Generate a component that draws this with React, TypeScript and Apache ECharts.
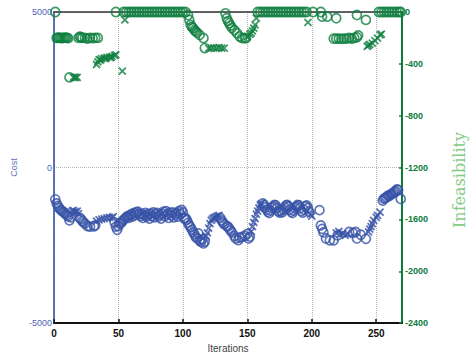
import React, { useEffect, useRef } from "react";
import * as echarts from "echarts";

// ---------- data (iteration, value) ----------
const costCircles: [number, number][] = [
  [1, -1020], [2, -1150], [3, -1230], [4, -1300], [5, -1350], [6, -1390], [7, -1420], [8, -1450], [9, -1490], [10, -1530], [11, -1570], [12, -1700], [13, -1600],
  [20, -1620], [21, -1660], [22, -1720], [23, -1760], [24, -1800], [26, -1880], [28, -1900], [31, -1890], [32, -1860],
  [47, -1760], [48, -1900], [49, -2000], [50, -1880], [51, -1800],
  [52, -1780], [53, -1720], [54, -1680], [55, -1640], [56, -1600], [57, -1560], [58, -1620], [59, -1540], [60, -1500], [61, -1580], [62, -1460], [63, -1520], [64, -1440], [65, -1420], [66, -1500], [67, -1560], [68, -1480], [69, -1620], [70, -1540], [71, -1460], [72, -1580], [73, -1500], [74, -1640], [75, -1480], [76, -1560], [77, -1440], [78, -1600], [79, -1500], [80, -1460], [81, -1580], [82, -1520], [83, -1640], [84, -1480], [85, -1420], [86, -1560], [87, -1400], [88, -1500], [89, -1620], [90, -1460], [91, -1540], [92, -1440], [93, -1600], [94, -1520], [95, -1460], [96, -1580], [97, -1400], [98, -1500], [99, -1360], [100, -1440],
  [101, -1640], [102, -1620], [103, -1680], [104, -1780], [105, -1860], [106, -1920], [107, -2000], [108, -2080], [109, -2150], [110, -2230], [111, -2280], [112, -2120], [113, -2340], [114, -2390], [115, -2300], [116, -2440], [117, -2380],
  [129, -1620], [130, -1700], [131, -1760], [132, -1820], [134, -1880], [135, -1900], [136, -1960], [137, -2020], [138, -2080], [140, -2200], [141, -2280], [143, -2330], [144, -2250], [146, -2230], [148, -2200], [150, -2130], [151, -2280], [152, -2220],
  [162, -1150], [163, -1200], [164, -1280], [165, -1350], [166, -1420], [167, -1460], [168, -1380], [169, -1300], [170, -1250], [171, -1200], [172, -1220], [173, -1300], [174, -1400], [175, -1450], [176, -1380], [177, -1440], [178, -1350], [179, -1280], [180, -1220], [181, -1200], [182, -1260], [183, -1350], [184, -1420], [185, -1460], [186, -1380], [187, -1300], [188, -1250], [189, -1200], [190, -1220], [191, -1300], [192, -1400], [193, -1450], [194, -1350], [195, -1250], [196, -1220], [197, -1300], [198, -1420],
  [206, -1370], [207, -1860], [208, -1970], [209, -2080], [211, -2280], [214, -2340], [217, -2340], [220, -2180], [229, -2070], [232, -2100], [234, -2070], [235, -2280], [238, -2160], [242, -2290],
  [255, -1060], [256, -1000], [257, -980], [258, -950], [259, -900], [260, -920], [261, -870], [262, -850], [263, -820], [264, -780], [265, -760], [266, -700], [267, -720], [269, -1010],
];

const costCrosses: [number, number][] = [
  [14, -1400], [15, -1380], [16, -1420], [17, -1450], [18, -1400], [19, -1480],
  [33, -1720], [35, -1680], [37, -1660], [39, -1640], [41, -1620], [43, -1600], [45, -1610], [46, -1580],
  [118, -2200], [119, -2100], [120, -1950], [121, -1800], [122, -1700], [123, -1650], [124, -1620], [125, -1600], [126, -1580], [127, -1560], [128, -1540],
  [153, -2050], [154, -1900], [155, -1760], [156, -1640], [157, -1500], [158, -1400], [159, -1300], [160, -1200], [161, -1160],
  [199, -1500], [200, -1560],
  [219, -2100], [221, -2050], [222, -2150], [224, -2120], [226, -2180], [228, -2130],
  [244, -2070], [245, -1980], [246, -1900], [247, -1800], [248, -1700], [250, -1600], [251, -1540], [253, -1430],
];

const infCircles: [number, number][] = [
  [1, 0], [2, -200], [3, -200], [4, -198], [5, -200], [6, -202], [7, -200], [8, -200], [9, -198], [10, -200], [11, -202], [12, -505],
  [19, -200], [20, -190], [21, -195], [22, -200], [24, -200], [26, -205], [28, -200], [30, -202], [32, -200], [34, -200],
  [48, 0], [54, 0], [56, 0], [58, 0], [60, 0], [62, 0], [64, 0], [66, 0], [68, 0], [70, 0], [72, 0], [74, 0], [76, 0], [78, 0], [80, 0], [82, 0], [84, 0], [86, 0], [88, 0], [90, 0], [92, 0], [94, 0], [96, 0], [98, 0], [100, 0], [102, 0],
  [104, -23], [105, -61], [106, -99], [107, -115], [108, -125], [109, -140], [110, -150], [111, -160], [113, -176], [116, -201], [117, -278],
  [133, -10], [134, -48], [135, -70], [136, -87], [137, -105], [138, -122], [140, -140], [142, -163], [144, -189], [146, -201], [148, -201], [149, -201],
  [158, 0], [160, 0], [162, 0], [164, 0], [166, 0], [168, 0], [170, 0], [172, 0], [174, 0], [176, 0], [178, 0], [180, 0], [182, 0], [184, 0], [186, 0], [188, 0], [190, 0], [192, 0], [194, 0], [196, 0],
  [201, 0], [207, 0], [208, -36], [212, -36], [219, -48], [235, -23], [242, -61],
  [217, -205], [219, -205], [221, -205], [223, -208], [225, -205], [227, -205], [229, -200], [231, -205], [233, -200], [235, -195], [236, -180],
  [252, 0], [254, 0], [256, 0], [258, 0], [260, 0], [262, 0], [264, 0], [266, 0], [268, 0], [269, 0],
];

const infCrosses: [number, number][] = [
  [15, -505], [16, -505], [17, -505], [18, -505],
  [33, -405], [34, -385], [35, -367], [36, -372], [37, -360], [39, -355], [40, -360], [41, -350], [43, -348], [44, -352], [45, -342], [47, -335], [48, -330],
  [53, -456], [55, -61],
  [120, -280], [122, -278], [124, -276], [126, -278], [128, -275], [130, -278], [132, -278],
  [150, -189], [152, -170], [153, -163], [154, -145], [155, -125], [156, -100], [157, -48],
  [197, -80],
  [243, -265], [244, -258], [245, -250], [247, -240], [249, -220], [251, -201], [253, -176], [254, -170],
];

const xRange = [0, 270];
const costRange = [-5000, 5000];
const infRange = [-2400, 0];

const BLUE = "#3752a6";
const BLUE_AXIS = "#2b47a3";
const GREEN = "#0f8040";
const GREEN_AXIS = "#0b7d3b";
const CROSS = "path://M0,0L10,10M10,0L0,10";

const plain = (v: number) => String(v);

export default function App() {
  const ref = useRef<HTMLDivElement>(null);
  useEffect(() => {
    if (!ref.current) return;
    const chart = echarts.init(ref.current, null, { renderer: "svg" });
    const hollow = (c: string, w: number) => ({ color: "rgba(0,0,0,0)", borderColor: c, borderWidth: w });
    chart.setOption({
      animation: false,
      backgroundColor: "#fff",
      grid: { left: 54, right: 69, top: 12, bottom: 32 },
      xAxis: [
        {
          type: "value",
          min: xRange[0],
          max: xRange[1],
          interval: 50,
          position: "bottom",
          axisLine: { onZero: false, lineStyle: { color: "#111", width: 2 } },
          axisTick: { inside: true, length: 4, lineStyle: { color: "#111", width: 1.5 } },
          axisLabel: { color: "#111", fontWeight: "bold", fontSize: 10, fontFamily: "Liberation Sans", margin: 5, showMaxLabel: false, formatter: plain },
          splitLine: { show: true, lineStyle: { type: "dotted", color: "#b5b5b5", width: 1 } },
          name: "Iterations",
          nameLocation: "middle",
          nameGap: 18,
          nameTextStyle: { color: "#444", fontSize: 10, fontFamily: "Liberation Sans" },
        },
        {
          type: "value",
          min: xRange[0],
          max: xRange[1],
          position: "top",
          axisLine: { show: true, onZero: false, lineStyle: { color: "#333", width: 1.5 } },
          axisTick: { show: false },
          axisLabel: { show: false },
          splitLine: { show: false },
        },
      ],
      yAxis: [
        {
          type: "value",
          min: costRange[0],
          max: costRange[1],
          interval: 5000,
          position: "left",
          axisLine: { show: true, onZero: false, lineStyle: { color: BLUE_AXIS, width: 1.5 } },
          axisTick: { show: false },
          axisLabel: { color: "#4d63b8", fontSize: 9, fontFamily: "Liberation Sans", margin: 2, formatter: plain },
          splitLine: { show: true, lineStyle: { type: "dotted", color: "#b5b5b5", width: 1 } },
          name: "Cost",
          nameLocation: "middle",
          nameGap: 33,
          nameTextStyle: { color: "#5a6fc4", fontSize: 9, fontFamily: "Liberation Sans" },
        },
        {
          type: "value",
          min: infRange[0],
          max: infRange[1],
          interval: 400,
          position: "right",
          axisLine: { show: true, onZero: false, lineStyle: { color: GREEN_AXIS, width: 2 } },
          axisTick: { show: true, inside: true, length: 3, lineStyle: { color: GREEN_AXIS, width: 1.5 } },
          axisLabel: { color: GREEN_AXIS, fontWeight: "bold", fontSize: 9, fontFamily: "Liberation Sans", margin: 3, formatter: plain },
          splitLine: { show: false },
        },
      ],
      graphic: [
        {
          type: "text",
          x: 459,
          y: 180,
          rotation: Math.PI / 2,
          style: {
            text: "Infeasibility",
            fill: "#86cc86",
            font: "16px 'DejaVu Serif'",
            textAlign: "center",
            textVerticalAlign: "middle",
          },
        },
      ],
      series: [
        { type: "scatter", xAxisIndex: 0, yAxisIndex: 0, data: costCircles, symbol: "circle", symbolSize: 9, itemStyle: hollow(BLUE, 1.7), clip: false },
        { type: "scatter", xAxisIndex: 0, yAxisIndex: 0, data: costCrosses, symbol: CROSS, symbolSize: 7, itemStyle: hollow(BLUE, 1.8), clip: false },
        { type: "scatter", xAxisIndex: 0, yAxisIndex: 1, data: infCircles, symbol: "circle", symbolSize: 9, itemStyle: hollow(GREEN, 1.7), clip: false },
        { type: "scatter", xAxisIndex: 0, yAxisIndex: 1, data: infCrosses, symbol: CROSS, symbolSize: 7, itemStyle: hollow(GREEN, 1.8), clip: false },
      ],
    });
    return () => chart.dispose();
  }, []);
  return <div ref={ref} style={{ position: "fixed", left: 0, top: 0, width: 471, height: 358, background: "#fff" }} />;
}
